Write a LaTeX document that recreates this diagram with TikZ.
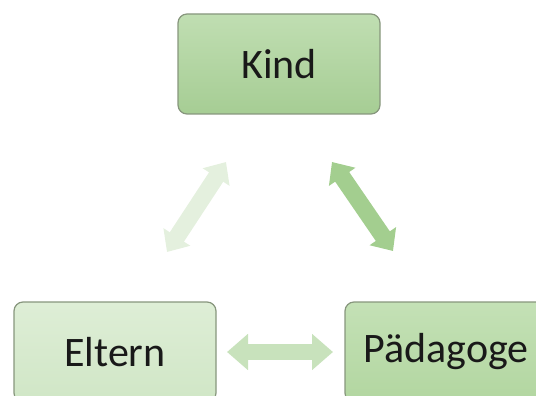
\documentclass[tikz,border=0pt]{standalone}
\usepackage{fontspec}
\setmainfont{Carlito}
\usetikzlibrary{arrows.meta}
\definecolor{bordc}{RGB}{135,150,125}
\definecolor{kindtop}{RGB}{192,222,178}
\definecolor{kindbot}{RGB}{166,205,148}
\definecolor{eltop}{RGB}{222,238,214}
\definecolor{elbot}{RGB}{208,230,198}
\definecolor{patop}{RGB}{196,225,182}
\definecolor{pabot}{RGB}{178,214,160}
\definecolor{arrL}{RGB}{228,240,222}
\definecolor{arrR}{RGB}{163,206,143}
\definecolor{arrH}{RGB}{200,226,188}
\tikzset{
  box/.style={draw=bordc, line width=1.2pt, rounded corners=9pt,
    minimum width=202pt, minimum height=100pt, inner sep=0pt,
    font=\fontsize{42}{46}\selectfont, text=black!90},
  darrow/.style={line width=17pt, {Triangle[width=31pt,length=18pt]}-{Triangle[width=31pt,length=18pt]}},
  harrow/.style={line width=16pt, {Triangle[width=35pt,length=21pt]}-{Triangle[width=35pt,length=21pt]}}
}
\begin{document}
\begin{tikzpicture}[x=1pt,y=-1pt]
\useasboundingbox (0,0) rectangle (536,396);
\clip (0,0) rectangle (536,396);
\node[box, top color=kindtop, bottom color=kindbot] (kind) at (279,64) {Kind};
\node[box, top color=eltop, bottom color=elbot] (eltern) at (115,352) {Eltern};
\node[box, top color=patop, bottom color=pabot] (paed) at (446,352) {Pädagoge};
\coordinate (l1) at (167,252);
\coordinate (l2) at (226,162);
\coordinate (r1) at (332,162);
\coordinate (r2) at (393,251);
\coordinate (h1) at (227,352);
\coordinate (h2) at (333,352);
\draw[darrow, draw=arrL, fill=arrL] (l1) -- (l2);
\draw[darrow, draw=arrR, fill=arrR] (r1) -- (r2);
\draw[harrow, draw=arrH, fill=arrH] (h1) -- (h2);
\end{tikzpicture}
\end{document}
